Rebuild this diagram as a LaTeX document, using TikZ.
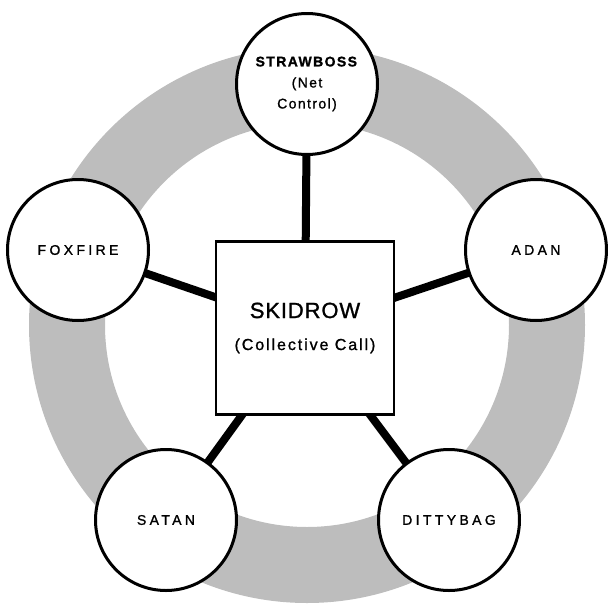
\documentclass[tikz,border=0pt]{standalone}
\usepackage{fontspec}
\setmainfont{Liberation Sans}
\newfontfamily\outerfont{Liberation Sans}[LetterSpace=24,FakeBold=1.2]
\newfontfamily\topfont{Liberation Sans}[LetterSpace=10,FakeBold=1.2]
\newfontfamily\hubfont{Liberation Sans}[LetterSpace=4,FakeBold=1.2]
\newfontfamily\subfont{Liberation Sans}[LetterSpace=12,FakeBold=1.2]
\usetikzlibrary{backgrounds}
\begin{document}
\begin{tikzpicture}[x=1pt,y=-1pt,
  station/.style={circle, draw, line width=3pt, fill=white, minimum size=141pt,
    inner sep=0pt, align=center, font=\outerfont\fontsize{14}{17}\selectfont},
  hub/.style={rectangle, draw, line width=2.5pt, fill=white, minimum width=178pt,
    minimum height=173pt, inner sep=0pt, align=center},
  spoke/.style={line width=8pt},
  ringfill/.style={fill=black!26}]
\useasboundingbox (0,0) rectangle (608,608);
\coordinate (c) at (307,325);
\node[hub] (skid) at (305,328)
  {{\hubfont\fontsize{22}{26}\selectfont SKIDROW}\\[20pt]
   {\subfont\fontsize{16}{19}\selectfont (Collective Call)}};
\node[station, font=\topfont\fontsize{14}{21}\selectfont] (straw) at (307,84)
  {\textbf{STRAWBOSS}\\(Net\\Control)};
\node[station] (fox) at (78,250) {FOXFIRE};
\node[station] (adan) at (536,250) {ADAN};
\node[station] (satan) at (166,520) {SATAN};
\node[station] (ditty) at (449,520) {DITTYBAG};
\begin{pgfonlayer}{background}
  \fill[ringfill, even odd rule] (c) circle[radius=278pt] (c) circle[radius=202pt];
  \draw[spoke] (skid.center) -- (straw.center);
  \draw[spoke] (skid.center) -- (fox.center);
  \draw[spoke] (skid.center) -- (adan.center);
  \draw[spoke] (skid.center) -- (satan.center);
  \draw[spoke] (skid.center) -- (ditty.center);
\end{pgfonlayer}
\end{tikzpicture}
\end{document}
